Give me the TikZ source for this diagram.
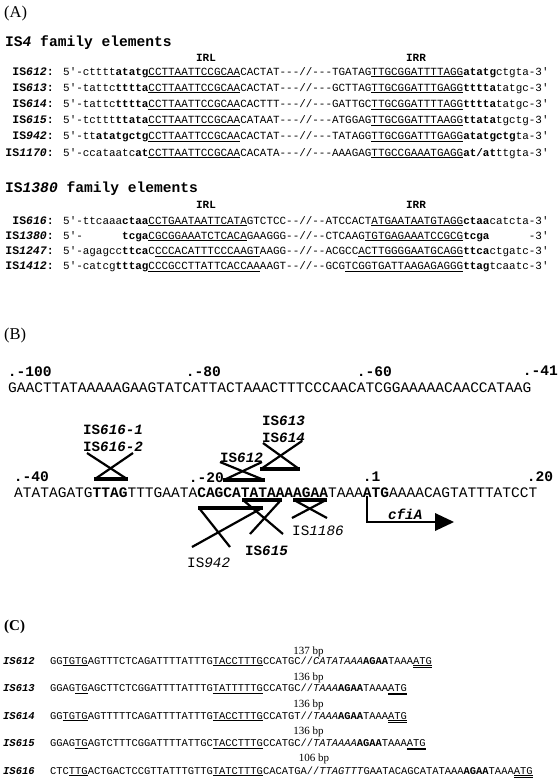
\documentclass[tikz,border=0pt]{standalone}
\usepackage{fontspec}
\setmainfont{Liberation Serif}
\setmonofont{Liberation Mono}
\newsavebox\ulbox
\newcommand{\myul}[1]{\sbox\ulbox{#1}\rlap{\rule[-1.9pt]{\wd\ulbox}{0.85pt}}\usebox\ulbox}
\newcommand{\mydul}[1]{\sbox\ulbox{#1}\rlap{\rule[-1.9pt]{\wd\ulbox}{0.8pt}}\rlap{\rule[-3.7pt]{\wd\ulbox}{0.8pt}}\usebox\ulbox}
\tikzset{
 lbl/.style={inner sep=0pt, anchor=base west},
 seqa/.style={lbl, font=\ttfamily\fontsize{10.93}{12}\selectfont},
 hdr/.style={lbl, font=\ttfamily\bfseries\fontsize{14.6}{16}\selectfont},
 irlab/.style={inner sep=0pt, anchor=base, font=\ttfamily\bfseries\fontsize{11}{12}\selectfont},
 rowlab/.style={inner sep=0pt, anchor=base east, font=\ttfamily\bfseries\fontsize{11.5}{12}\selectfont},
 seqb/.style={lbl, font=\ttfamily\fontsize{14.53}{16}\selectfont},
 posl/.style={lbl, font=\ttfamily\bfseries\fontsize{14.6}{16}\selectfont},
 isl/.style={lbl, font=\ttfamily\bfseries\fontsize{14.2}{16}\selectfont},
 isr/.style={lbl, font=\ttfamily\fontsize{14.3}{16}\selectfont},
 seqc/.style={lbl, font=\ttfamily\fontsize{10.43}{12}\selectfont},
 labc/.style={lbl, font=\ttfamily\bfseries\itshape\fontsize{10.5}{12}\selectfont},
 bp/.style={inner sep=0pt, anchor=base, font=\fontsize{11}{12}\selectfont},
 panel/.style={lbl, font=\fontsize{16.5}{18}\selectfont},
 ins/.style={line width=2.2pt},
 tsd/.style={line width=4pt},
}
\begin{document}
\begin{tikzpicture}[x=1pt,y=-1pt]
\fill[white] (0,0) rectangle (560,780);
\useasboundingbox (0,0) rectangle (560,780);

% ---------------- (A)
\node[panel] (pa) at (4,17.5) {(A)};
\node[hdr] (h1) at (5,46.5) {IS\textit{4} family elements};
\node[irlab] (irl1) at (206,61) {IRL};
\node[irlab] (irr1) at (416,61) {IRR};

\node[rowlab] (l612) at (54,75.1) {IS\textit{612}:};
\node[seqa] (s612) at (63,75.1) {5'-ctttt\textbf{atatg}\myul{CCTTAATTCCGCAA}CACTAT---//---TGATAG\myul{TTGCGGATTTTAGG}\textbf{atatg}ctgta-3'};
\node[rowlab] (l613) at (54,91.3) {IS\textit{613}:};
\node[seqa] (s613) at (63,91.3) {5'-tattc\textbf{tttta}\myul{CCTTAATTCCGCAA}CACTAT---//---GCTTAG\myul{TTGCGGATTTGAGG}\textbf{tttta}tatgc-3'};
\node[rowlab] (l614) at (54,107.5) {IS\textit{614}:};
\node[seqa] (s614) at (63,107.5) {5'-tattc\textbf{tttta}\myul{CCTTAATTCCGCAA}CACTTT---//---GATTGC\myul{TTGCGGATTTTAGG}\textbf{tttta}tatgc-3'};
\node[rowlab] (l615) at (54,123.7) {IS\textit{615}:};
\node[seqa] (s615) at (63,123.7) {5'-tcttt\textbf{ttata}\myul{CCTTAATTCCGCAA}CATAAT---//---ATGGAG\myul{TTGCGGATTTAAGG}\textbf{ttata}tgctg-3'};
\node[rowlab] (l942) at (54,139.9) {IS\textit{942}:};
\node[seqa] (s942) at (63,139.9) {5'-tt\textbf{atatgctg}\myul{CCTTAATTCCGCAA}CACTAT---//---TATAGG\myul{TTGCGGATTTGAGG}\textbf{atatgctg}ta-3'};
\node[rowlab] (l1170) at (54,156.1) {IS\textit{1170}:};
\node[seqa] (s1170) at (63,156.1) {5'-ccataatc\textbf{at}\myul{CCTTAATTCCGCAA}CACATA---//---AAAGAG\myul{TTGCCGAAATGAGG}\textbf{at/at}ttgta-3'};

\node[hdr] (h2) at (5,192.5) {IS\textit{1380} family elements};
\node[irlab] (irl2) at (206,208.5) {IRL};
\node[irlab] (irr2) at (416,208.5) {IRR};

\node[rowlab] (l616) at (54,224) {IS\textit{616}:};
\node[seqa] (s616) at (63,224) {5'-ttcaaa\textbf{ctaa}\myul{CCTGAATAATTCATA}GTCTCC--//--ATCCACT\myul{ATGAATAATGTAGG}\textbf{ctaa}catcta-3'};
\node[rowlab] (l1380) at (54,239.3) {IS\textit{1380}:};
\node[seqa] (s1380) at (63,239.3) {5'-\phantom{aaaaaa}\textbf{tcga}\myul{CGCGGAAATCTCACA}GAAGGG--//--CTCAAG\myul{TGTGAGAAATCCGCG}\textbf{tcga}\phantom{aaaaaa}-3'};
\node[rowlab] (l1247) at (54,254.6) {IS\textit{1247}:};
\node[seqa] (s1247) at (63,254.6) {5'-agagcc\textbf{ttca}C\myul{CCCACATTTCCCAAGT}AAGG--//--ACGCC\myul{ACTTGGGGAATGCAGG}\textbf{ttca}ctgatc-3'};
\node[rowlab] (l1412) at (54,269.9) {IS\textit{1412}:};
\node[seqa] (s1412) at (63,269.9) {5'-catcg\textbf{tttag}\myul{CCCGCCTTATTCACCAA}AAGT--//--GCG\myul{TCGGTGATTAAGAGAGGG}\textbf{ttag}tcaatc-3'};

% ---------------- (B)
\node[panel] (pb) at (4,339) {(B)};
\node[posl] (p100) at (7.6,376) {.-100};
\node[posl] (p80) at (185.6,376) {.-80};
\node[posl] (p60) at (356.6,376) {.-60};
\node[posl] (p41) at (522.6,375) {.-41};
\node[seqb] (line1) at (8,392.2) {GAACTTATAAAAAGAAGTATCATTACTAAACTTTCCCAACATCGGAAAAACAACCATAAG};

\node[posl] (p40) at (13.6,481) {.-40};
\node[posl] (p20) at (188.6,482) {.-20};
\node[posl] (p1) at (362.6,481) {.1};
\node[posl] (p20b) at (526.6,481) {.20};
\node[seqb] (line2) at (14,497) {ATATAGATG\textbf{TTAG}TTTGAATA\textbf{CAGCATATAAAAGAA}TAAA\textbf{ATG}AAAACAGTATTTATCCT};

% insertion labels
\node[isl] (n6161) at (83,434) {IS\textit{616-1}};
\node[isl] (n6162) at (83,451) {IS\textit{616-2}};
\node[isl] (n613) at (262,425) {IS\textit{613}};
\node[isl] (n614) at (262,442) {IS\textit{614}};
\node[isl] (n612) at (220,462.5) {IS\textit{612}};
\node[isl] (n615) at (245,555) {IS\textit{615}};
\node[isr] (n942) at (187,567.5) {IS\textit{942}};
\node[isr] (n1186) at (292,535.5) {IS\textit{1186}};
\node[isl] (ncfi) at (388,519) {\textit{cfiA}};

% IS616
\draw[tsd] (94,479) -- (128,479);
\draw[ins] (87,453) -- (127,479);
\draw[ins] (133,453) -- (95,479);
% IS612
\draw[tsd] (223,480) -- (265,480);
\draw[ins] (220,462) -- (264,480);
\draw[ins] (262,462) -- (224,480);
% IS613/614
\draw[tsd] (260,469) -- (300,469);
\draw[ins] (263,443) -- (299,469);
\draw[ins] (302,441) -- (261,469);
% IS942
\draw[tsd] (198,508) -- (263,508);
\draw[ins] (199,508) -- (230,547);
\draw[ins] (262,508) -- (192,547);
% IS615
\draw[tsd] (242,500) -- (282,500);
\draw[ins] (243,500) -- (283,534);
\draw[ins] (281,500) -- (250,534);
% IS1186
\draw[tsd] (293,500) -- (327,500);
\draw[ins] (294,500) -- (327,518);
\draw[ins] (326,500) -- (292,518);
% cfiA arrow
\coordinate (atg) at (367,496);
\coordinate (ah) at (436,522);
\draw[ins] (atg) |- (ah);
\fill (435,513) -- (454,522) -- (435,531) -- cycle;

% ---------------- (C)
\node[panel, font=\bfseries\fontsize{15}{16}\selectfont] (pc) at (4,630) {(C)};

\node[bp] (b612) at (308.5,654.6) {137 bp};
\node[labc] (c612) at (3,664) {IS612};
\node[seqc] (q612) at (50,664) {GG\myul{TGTG}AGTTTCTCAGATTTTATTTG\myul{TACCTTTG}CCATGC//\textit{CATATAAA}\textbf{AGAA}TAAA\mydul{ATG}};

\node[bp] (b613) at (308.5,680.8) {136 bp};
\node[labc] (c613) at (3,691.5) {IS613};
\node[seqc] (q613) at (50,691.5) {GGAG\myul{TG}AGCTTCTCGGATTTTATTTG\myul{TATTTTTG}CCATGC//\textit{TAAA}\textbf{AGAA}TAAA\mydul{ATG}};

\node[bp] (b614) at (308.5,707.2) {136 bp};
\node[labc] (c614) at (3,719) {IS614};
\node[seqc] (q614) at (50,719) {GG\myul{TGTG}AGTTTTTCAGATTTTATTTG\myul{TACCTTTG}CCATGT//\textit{TAAA}\textbf{AGAA}TAAA\mydul{ATG}};

\node[bp] (b615) at (308.5,734.8) {136 bp};
\node[labc] (c615) at (3,746.5) {IS615};
\node[seqc] (q615) at (50,746.5) {GGAG\myul{TG}AGTCTTTCGGATTTTATTGC\myul{TACCTTTG}CCATGC//\textit{TATAAAA}\textbf{AGAA}TAAA\mydul{ATG}};

\node[bp] (b616) at (314,761.8) {106 bp};
\node[labc] (c616) at (3,774) {IS616};
\node[seqc] (q616) at (50,774) {CTC\myul{TTG}ACTGACTCCGTTATTTGTTG\myul{TATCTTTG}CACATGA//\textit{TTAGTTT}GAATACAGCATATAAA\textbf{AGAA}TAAA\mydul{ATG}};
\end{tikzpicture}
\end{document}
